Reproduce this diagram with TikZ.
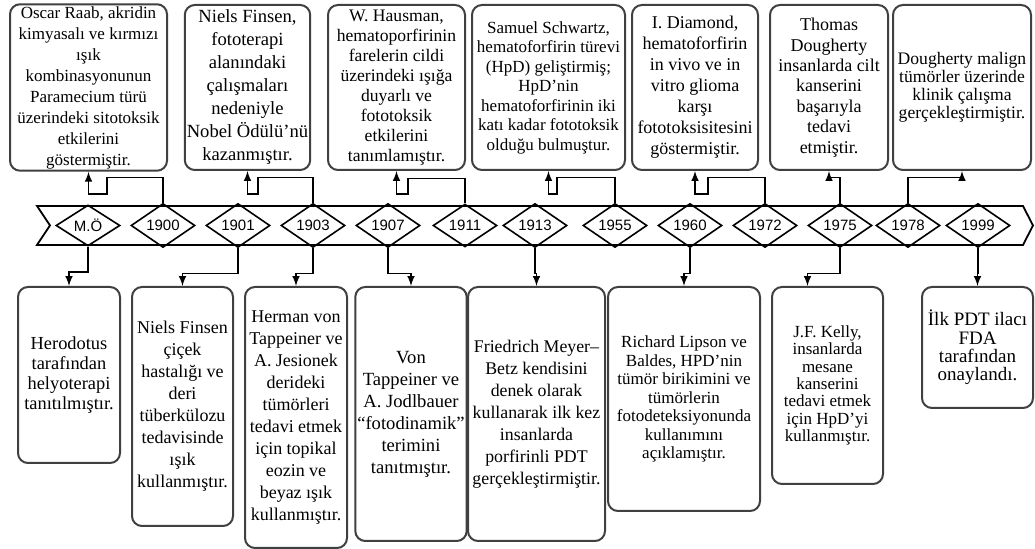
\documentclass[tikz,border=0pt]{standalone}
\usepackage{fontspec}
\setmainfont{Liberation Serif}
\newfontfamily\yearfont{Liberation Sans}
\usetikzlibrary{shapes.geometric}

\begin{document}
\begin{tikzpicture}[x=0.5pt,y=-0.5pt,
	box/.style={draw=black!75,line width=1pt,rounded corners=5pt,align=center,inner sep=1pt,fill=white},
	yr/.style={draw,diamond,line width=0.8pt,minimum width=32pt,minimum height=18pt,inner sep=0pt,font=\yearfont\fontsize{7.5}{8}\selectfont},
	fs/.style n args={2}{font=\fontsize{#1}{#2}\selectfont},
	con/.style={line width=0.7pt,-latex}]
	\fill[white] (0,0) rectangle (1035,549);
	\useasboundingbox (0,0) rectangle (1035,549);
	% timeline band
	\draw[line width=0.9pt] (37,206) -- (1023,206) -- (1033,225.5) -- (1023,245) -- (37,245) -- (50,225.5) -- cycle;
	\foreach \n/\x/\t in {mo/88/M.Ö, y1900/163/1900, y1901/238/1901, y1903/313/1903, y1907/388/1907, y1911/465/1911, y1913/535/1913, y1955/615/1955, y1960/690/1960, y1972/765/1972, y1975/840/1975, y1978/908/1978, y1999/978/1999}
		\node[yr] (\n) at (\x,225.5) {\t};
	% upper boxes
	\node[box,fs={8.5}{10.5},minimum width=78.5pt,minimum height=82.5pt] (t1) at (88.5,87.5) {Oscar Raab, akridin\\kimyasalı ve kırmızı\\ışık\\kombinasyonunun\\Paramecium türü\\üzerindeki sitotoksik\\etkilerini\\göstermiştir.};
	\node[box,fs={9.3}{11.5},minimum width=62.5pt,minimum height=82.5pt] (t2) at (247.5,87.5) {Niels Finsen,\\fototerapi\\alanındaki\\çalışmaları\\nedeniyle\\Nobel Ödülü'nü\\kazanmıştır.};
	\node[box,fs={8.8}{10},minimum width=68.5pt,minimum height=82.5pt] (t3) at (396.5,87.5) {W. Hausman,\\hematoporfirinin\\farelerin cildi\\üzerindeki ışığa\\duyarlı ve\\fototoksik\\etkilerini\\tanımlamıştır.};
	\node[box,fs={8.5}{9.75},minimum width=76.5pt,minimum height=82.5pt] (t4) at (548.5,87.5) {Samuel Schwartz,\\hematoforfirin türevi\\(HpD) geliştirmiş;\\HpD'nin\\hematoforfirinin iki\\katı kadar fototoksik\\olduğu bulmuştur.};
	\node[box,fs={9}{10.5},minimum width=63pt,minimum height=82.5pt] (t5) at (695,87.5) {I. Diamond,\\hematoforfirin\\in vivo ve in\\vitro glioma\\karşı\\fototoksisitesini\\göstermiştir.};
	\node[box,fs={9}{10.2},minimum width=59pt,minimum height=82.5pt] (t6) at (829,87.5) {Thomas\\Dougherty\\insanlarda cilt\\kanserini\\başarıyla\\tedavi\\etmiştir.};
	\node[box,fs={8.8}{9},minimum width=69pt,minimum height=82.5pt] (t7) at (962,87.5) {Dougherty malign\\tümörler üzerinde\\klinik çalışma\\gerçekleştirmiştir.};
	% lower boxes
	\node[box,fs={9.2}{10},anchor=north,minimum width=51pt,minimum height=88pt] (b1) at (69,286) {Herodotus\\tarafından\\helyoterapi\\tanıtılmıştır.};
	\node[box,fs={9}{11},anchor=north,minimum width=50.5pt,minimum height=119.5pt] (b2) at (182.5,286) {Niels Finsen\\çiçek\\hastalığı ve\\deri\\tüberkülozu\\tedavisinde\\ışık\\kullanmıştır.};
	\node[box,fs={9}{11},anchor=north,minimum width=51pt,minimum height=130.5pt] (b3) at (296,286) {Herman von\\Tappeiner ve\\A. Jesionek\\derideki\\tümörleri\\tedavi etmek\\için topikal\\eozin ve\\beyaz ışık\\kullanmıştır.};
	\node[box,fs={9.3}{11},anchor=north,minimum width=54pt,minimum height=127pt] (b4) at (411,286) {Von\\Tappeiner ve\\A. Jodlbauer\\“fotodinamik”\\terimini\\tanıtmıştır.};
	\node[box,fs={8.9}{11},anchor=north,minimum width=68.5pt,minimum height=127pt] (b5) at (536.5,286) {Friedrich Meyer–\\Betz kendisini\\denek olarak\\kullanarak ilk kez\\insanlarda\\porfirinli PDT\\gerçekleştirmiştir.};
	\node[box,fs={8.5}{9.25},anchor=north,minimum width=76pt,minimum height=112pt] (b6) at (684,286) {Richard Lipson ve\\Baldes, HPD'nin\\tümör birikimini ve\\tümörlerin\\fotodeteksiyonunda\\kullanımını\\açıklamıştır.};
	\node[box,fs={8.5}{8.7},anchor=north,minimum width=55.5pt,minimum height=98.5pt] (b7) at (827.5,286) {J.F. Kelly,\\insanlarda\\mesane\\kanserini\\tedavi etmek\\için HpD'yi\\kullanmıştır.};
	\node[box,fs={9.5}{9.2},anchor=north,minimum width=55.5pt,minimum height=60.5pt] (b8) at (977.5,286) {İlk PDT ilacı\\FDA\\tarafından\\onaylandı.};
	% connectors up
	\foreach \a/\b/\j in {y1900/t1/107, y1903/t2/258, y1911/t3/408, y1955/t4/557, y1972/t5/708}
		\draw[con] (\a.north) -- ++(0,-25) -| (\j,194) -| (\b.south);
	\draw[con] (y1975.north) -- ++(0,-25) -| (t6.south);
	\draw[con] (y1978.north) -- ++(0,-25) -| (t7.south);
	% connectors down
	\foreach \a/\b in {mo/b1, y1901/b2, y1903/b3, y1907/b4, y1913/b5, y1960/b6, y1999/b8}
		\draw[con] (\a.south) -- ++(0,25) -| (\b.north);
	\draw[con] (y1975.south) -- ++(0,25) -| ([xshift=-10pt]b7.north);
\end{tikzpicture}
\end{document}
